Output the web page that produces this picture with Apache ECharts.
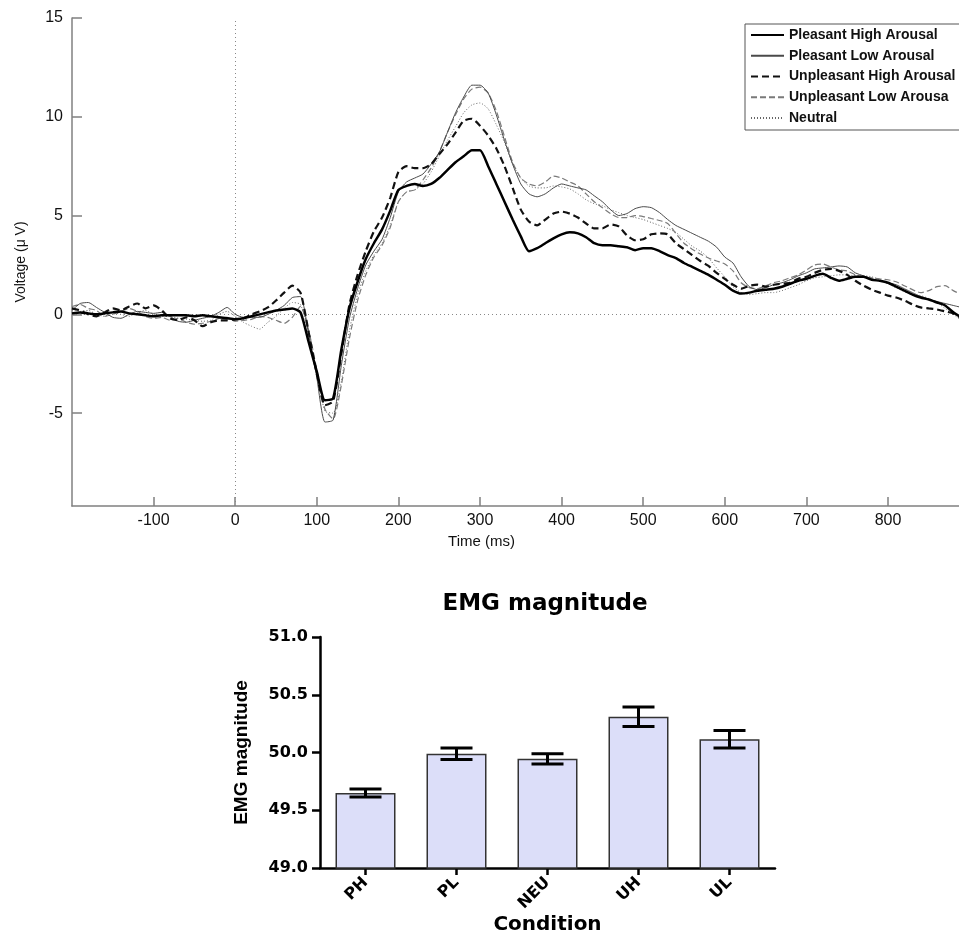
<!DOCTYPE html>
<html>
<head>
<meta charset="utf-8">
<script src="https://cdn.jsdelivr.net/npm/echarts@6/dist/echarts.min.js"></script>
<style>
html, body { margin: 0; padding: 0; background: #fff; }
#main { width: 959px; height: 943px; }
</style>
</head>
<body>
<div id="main"></div>
<script>
// ERP waveforms, sampled every 10 ms
var times = [
  -200, -190, -180, -170, -160, -150, -140, -130, -120, -110,
  -100, -90, -80, -70, -60, -50, -40, -30, -20, -10,
  0, 10, 20, 30, 40, 50, 60, 70, 80, 90,
  100, 110, 120, 130, 140, 150, 160, 170, 180, 190,
  200, 210, 220, 230, 240, 250, 260, 270, 280, 290,
  300, 310, 320, 330, 340, 350, 360, 370, 380, 390,
  400, 410, 420, 430, 440, 450, 460, 470, 480, 490,
  500, 510, 520, 530, 540, 550, 560, 570, 580, 590,
  600, 610, 620, 630, 640, 650, 660, 670, 680, 690,
  700, 710, 720, 730, 740, 750, 760, 770, 780, 790,
  800, 810, 820, 830, 840, 850, 860, 870, 880, 890
];

var pleasantHigh = [
  0.05, 0.1, 0.05, 0.0, 0.05, 0.1, 0.15, 0.05, 0.0, -0.05,
  -0.1, -0.05, -0.05, -0.05, -0.05, -0.1, -0.05, -0.1, -0.15, -0.2,
  -0.25, -0.2, -0.1, 0.0, 0.1, 0.2, 0.25, 0.3, 0.1, -1.4,
  -2.9, -4.35, -4.25, -1.8, 0.3, 1.65, 2.8, 3.6, 4.3, 5.25,
  6.3, 6.5, 6.6, 6.5, 6.6, 6.9, 7.3, 7.7, 8.0, 8.3,
  8.3, 7.5, 6.6, 5.7, 4.8, 3.95, 3.2, 3.35, 3.6, 3.85,
  4.05, 4.15, 4.1, 3.9, 3.6, 3.5, 3.5, 3.45, 3.4, 3.25,
  3.35, 3.35, 3.2, 3.0, 2.85, 2.6, 2.4, 2.2, 2.0, 1.75,
  1.5, 1.2, 1.05, 1.1, 1.2, 1.25, 1.3, 1.4, 1.55, 1.7,
  1.8, 1.95, 2.05, 1.85, 1.7, 1.8, 1.9, 1.9, 1.75, 1.7,
  1.6, 1.4, 1.2, 1.0, 0.85, 0.75, 0.6, 0.45, 0.1, -0.15
];

var pleasantLow = [
  0.2, 0.55, 0.6, 0.35, 0.1, -0.15, -0.2, 0.0, 0.15, 0.1,
  0.05, 0.1, -0.1, -0.35, -0.4, -0.3, -0.2, -0.1, 0.1, 0.35,
  0.0, -0.15, -0.15, -0.15, 0.0, 0.2, 0.45, 0.85, 0.9, -1.0,
  -3.2, -5.45, -5.35, -2.6, -0.2, 1.3, 2.5, 3.2, 3.8, 4.9,
  6.2, 6.7, 6.9, 7.1, 7.6, 8.2, 9.2, 10.2, 11.0, 11.6,
  11.6, 11.2, 10.1, 8.8, 7.6, 6.6, 6.1, 5.95, 6.1, 6.4,
  6.6, 6.5, 6.4, 6.3, 6.0, 5.7, 5.3, 5.0, 5.1, 5.35,
  5.45, 5.4, 5.15, 4.8, 4.5, 4.3, 4.1, 3.9, 3.7, 3.4,
  2.9, 2.6, 1.9, 1.4, 1.25, 1.35, 1.5, 1.6, 1.75, 1.95,
  2.1, 2.3, 2.35, 2.4, 2.45, 2.4, 2.1, 1.95, 1.8, 1.7,
  1.6, 1.5, 1.3, 1.1, 0.9, 0.75, 0.65, 0.55, 0.45, 0.35
];

var unpleasantHigh = [
  0.3, 0.2, 0.0, -0.1, 0.1, 0.3, 0.2, 0.4, 0.55, 0.3,
  0.45, 0.2, -0.2, -0.3, -0.15, -0.3, -0.6, -0.4, -0.3, -0.3,
  -0.25, -0.2, 0.0, 0.15, 0.35, 0.7, 1.1, 1.45, 1.1, -0.9,
  -3.0, -4.6, -4.4, -2.0, 0.5, 2.0, 3.2, 4.2, 4.9, 5.9,
  7.2, 7.5, 7.4, 7.4, 7.6, 8.1, 8.6, 9.2, 9.8, 9.9,
  9.55, 9.05, 8.4, 7.5, 6.4, 5.3, 4.7, 4.5, 4.8, 5.1,
  5.2, 5.1, 4.9, 4.6, 4.35, 4.35, 4.55, 4.45, 4.0, 3.75,
  3.8, 4.05, 4.1, 4.05, 3.6, 3.3, 3.0, 2.7, 2.45, 2.1,
  1.8, 1.5, 1.3, 1.45, 1.5, 1.4, 1.5, 1.55, 1.6, 1.8,
  1.9, 2.1, 2.25, 2.3, 2.2, 2.0, 1.7, 1.45, 1.25, 1.1,
  0.95, 0.85, 0.7, 0.5, 0.35, 0.3, 0.25, 0.15, 0.05, -0.2
];

var unpleasantLow = [
  0.4, 0.5, 0.3, 0.2, -0.1, 0.0, 0.15, 0.3, 0.15, -0.1,
  -0.2, -0.15, -0.3, -0.2, -0.4, -0.5, -0.45, -0.35, -0.2, -0.15,
  -0.35, -0.3, -0.25, -0.1, -0.15, -0.3, -0.45, -0.15, 0.4, -0.8,
  -2.8, -4.8, -5.3, -3.6, -1.2, 0.7, 2.0, 2.9, 3.5, 4.4,
  5.7, 6.2, 6.3, 6.8, 7.4, 8.2, 9.2, 10.1, 10.9, 11.4,
  11.5, 11.2, 10.3, 9.0, 7.7, 6.9, 6.6, 6.5, 6.7, 7.0,
  6.9, 6.7, 6.5, 6.1, 5.7, 5.4, 5.1, 4.9, 4.9, 5.0,
  4.95, 4.85, 4.75, 4.6, 4.1, 3.6, 3.3, 3.05, 2.85, 2.7,
  2.55, 2.2, 1.6, 1.35, 1.3, 1.45, 1.6, 1.7, 1.85, 2.0,
  2.25, 2.5, 2.55, 2.4, 2.25, 2.2, 2.0, 1.9, 1.85, 1.8,
  1.75, 1.65, 1.45, 1.25, 1.1, 1.2, 1.4, 1.45, 1.2, 1.0
];

var neutral = [
  0.3, 0.15, 0.2, 0.0, -0.1, 0.1, 0.0, -0.1, 0.1, 0.2,
  0.0, -0.1, -0.1, -0.2, -0.25, -0.3, -0.35, -0.3, 0.0, 0.15,
  -0.1, -0.4, -0.6, -0.75, -0.4, -0.1, 0.3, 0.6, 0.5, -1.0,
  -3.0, -4.9, -5.0, -3.4, -0.8, 1.0, 2.2, 3.0, 3.6, 4.5,
  5.7, 6.2, 6.3, 6.6, 7.2, 8.0, 8.8, 9.5, 10.2, 10.6,
  10.7, 10.4, 9.6, 8.7, 7.6, 6.9, 6.5, 6.4, 6.4, 6.5,
  6.45, 6.35, 6.1, 5.8, 5.6, 5.5, 5.3, 5.15, 5.0, 4.9,
  4.8, 4.65, 4.5, 4.35, 4.15, 3.8, 3.45, 3.2, 2.85, 2.35,
  1.9, 1.4, 1.1, 1.0, 1.05, 1.1, 1.1, 1.2, 1.35, 1.5,
  1.7, 1.85, 1.9, 1.95, 2.0, 2.0, 1.95, 1.95, 1.9, 1.75,
  1.55, 1.35, 1.15, 1.0, 0.95, 0.8, 0.6, 0.3, 0.0, -0.3
];

var timeTicks = [-100, 0, 100, 200, 300, 400, 500, 600, 700, 800];
var voltTicks = [-5, 0, 5, 10, 15];

// EMG bar chart
var conditions = ['PH', 'PL', 'NEU', 'UH', 'UL'];
var emgMean = [49.65, 49.99, 49.945, 50.31, 50.115];
var emgSem = [0.035, 0.05, 0.045, 0.085, 0.075];

var chart = echarts.init(document.getElementById('main'));

function pairs(vals) {
    return times.map(function (t, i) { return [t, vals[i]]; });
}

var sansFont = 'Liberation Sans, Arial, sans-serif';
var boldFont = 'DejaVu Sans, sans-serif';

function wave(name, vals, color, width, type, z) {
    return {
        name: name,
        type: 'line',
        xAxisIndex: 0,
        yAxisIndex: 0,
        data: pairs(vals),
        symbol: 'none',
        showSymbol: false,
        smooth: 0.2,
        z: z,
        itemStyle: { color: color },
        lineStyle: { color: color, width: width, type: type }
    };
}

var errData = conditions.map(function (c, i) {
    return [i, emgMean[i] - emgSem[i], emgMean[i] + emgSem[i]];
});

var option = {
    animation: false,
    backgroundColor: '#fff',
    title: {
        text: 'EMG magnitude',
        left: 540,
        top: 588,
        textAlign: 'center',
        textStyle: { fontFamily: boldFont, fontSize: 23, fontWeight: 'bold', color: '#000' }
    },
    legend: {
        orient: 'vertical',
        left: 745,
        top: 24,
        itemWidth: 33,
        itemHeight: 14,
        itemGap: 6.75,
        padding: [4, 8, 5, 5],
        borderColor: '#555',
        borderWidth: 1,
        itemStyle: { color: 'transparent', borderColor: 'transparent', borderWidth: 0 },
        textStyle: { fontFamily: sansFont, fontSize: 14, fontWeight: 'bold', color: '#111' },
        data: ['Pleasant High Arousal', 'Pleasant Low Arousal', 'Unpleasant High Arousal',
               'Unpleasant Low Arousa', 'Neutral']
    },
    grid: [
        { left: 72, top: 18, width: 887, height: 488 },
        { left: 320, top: 637, width: 455, height: 231 }
    ],
    xAxis: [{
        type: 'value',
        gridIndex: 0,
        min: -200,
        max: 887,
        name: 'Time (ms)',
        nameLocation: 'middle',
        nameGap: 28,
        nameTextStyle: { fontFamily: sansFont, fontSize: 15, color: '#111', padding: [0, 68, 0, 0] },
        axisLine: { show: true, onZero: false, lineStyle: { color: '#808080', width: 1.5 } },
        axisTick: { show: true, inside: true, length: 9, customValues: timeTicks,
                    lineStyle: { color: '#808080', width: 1.5 } },
        axisLabel: { customValues: timeTicks, fontFamily: sansFont, fontSize: 16, color: '#111', margin: 7 },
        splitLine: { show: false }
    }, {
        type: 'category',
        gridIndex: 1,
        data: conditions,
        name: 'Condition',
        nameLocation: 'middle',
        nameGap: 44,
        nameTextStyle: { fontFamily: boldFont, fontSize: 20, fontWeight: 'bold', color: '#000' },
        axisLine: { show: true, lineStyle: { color: '#000', width: 2.5 } },
        axisTick: { show: true, alignWithLabel: true, length: 7, lineStyle: { color: '#000', width: 2.5 } },
        axisLabel: { rotate: 45, fontFamily: boldFont, fontSize: 16, fontWeight: 'bold', color: '#000', margin: 12 }
    }],
    yAxis: [{
        type: 'value',
        gridIndex: 0,
        min: -9.7,
        max: 15,
        name: 'Voltage (\u03bc V)',
        nameLocation: 'middle',
        nameGap: 44,
        nameTextStyle: { fontFamily: sansFont, fontSize: 14, color: '#111' },
        axisLine: { show: true, onZero: false, lineStyle: { color: '#808080', width: 1.5 } },
        axisTick: { show: true, inside: true, length: 10, customValues: voltTicks,
                    lineStyle: { color: '#808080', width: 1.5 } },
        axisLabel: { customValues: voltTicks, fontFamily: sansFont, fontSize: 16, color: '#111', margin: 9 },
        splitLine: { show: false }
    }, {
        type: 'value',
        gridIndex: 1,
        min: 49,
        max: 51,
        interval: 0.5,
        name: 'EMG magnitude',
        nameLocation: 'middle',
        nameGap: 69,
        nameTextStyle: { fontFamily: sansFont, fontSize: 19, fontWeight: 'bold', color: '#000' },
        axisLine: { show: true, lineStyle: { color: '#000', width: 2.5 } },
        axisTick: { show: true, length: 8, lineStyle: { color: '#000', width: 2.5 } },
        axisLabel: {
            fontFamily: boldFont, fontSize: 16, fontWeight: 'bold', color: '#000', margin: 12,
            formatter: function (v) { return v.toFixed(1); }
        },
        splitLine: { show: false }
    }],
    series: [
        {
            // dotted zero lines
            type: 'line',
            xAxisIndex: 0,
            yAxisIndex: 0,
            data: [],
            markLine: {
                silent: true,
                symbol: 'none',
                label: { show: false },
                lineStyle: { color: '#888', width: 1, type: [1, 3] },
                data: [{ xAxis: 0 }, { yAxis: 0 }]
            }
        },
        wave('Neutral', neutral, '#666', 1, [1, 2], 2),
        wave('Unpleasant Low Arousa', unpleasantLow, '#7a7a7a', 1.2, [6, 3], 3),
        wave('Pleasant Low Arousal', pleasantLow, '#4a4a4a', 1, 'solid', 4),
        wave('Unpleasant High Arousal', unpleasantHigh, '#111', 2.2, [7, 4], 5),
        wave('Pleasant High Arousal', pleasantHigh, '#000', 2.5, 'solid', 6),
        {
            type: 'bar',
            xAxisIndex: 1,
            yAxisIndex: 1,
            data: emgMean,
            barWidth: 60,
            itemStyle: { color: '#dcdef9', borderColor: '#333', borderWidth: 1.5 }
        },
        {
            type: 'custom',
            xAxisIndex: 1,
            yAxisIndex: 1,
            data: errData,
            encode: { x: 0, y: [1, 2] },
            z: 10,
            renderItem: function (params, api) {
                var i = api.value(0);
                var lo = api.coord([i, api.value(1)]);
                var hi = api.coord([i, api.value(2)]);
                var w = 16;
                var st = { stroke: '#000', lineWidth: 3 };
                return {
                    type: 'group',
                    children: [
                        { type: 'line', shape: { x1: hi[0], y1: hi[1], x2: lo[0], y2: lo[1] }, style: st },
                        { type: 'line', shape: { x1: hi[0] - w, y1: hi[1], x2: hi[0] + w, y2: hi[1] }, style: st },
                        { type: 'line', shape: { x1: lo[0] - w, y1: lo[1], x2: lo[0] + w, y2: lo[1] }, style: st }
                    ]
                };
            }
        }
    ]
};

chart.setOption(option);
</script>
</body>
</html>
